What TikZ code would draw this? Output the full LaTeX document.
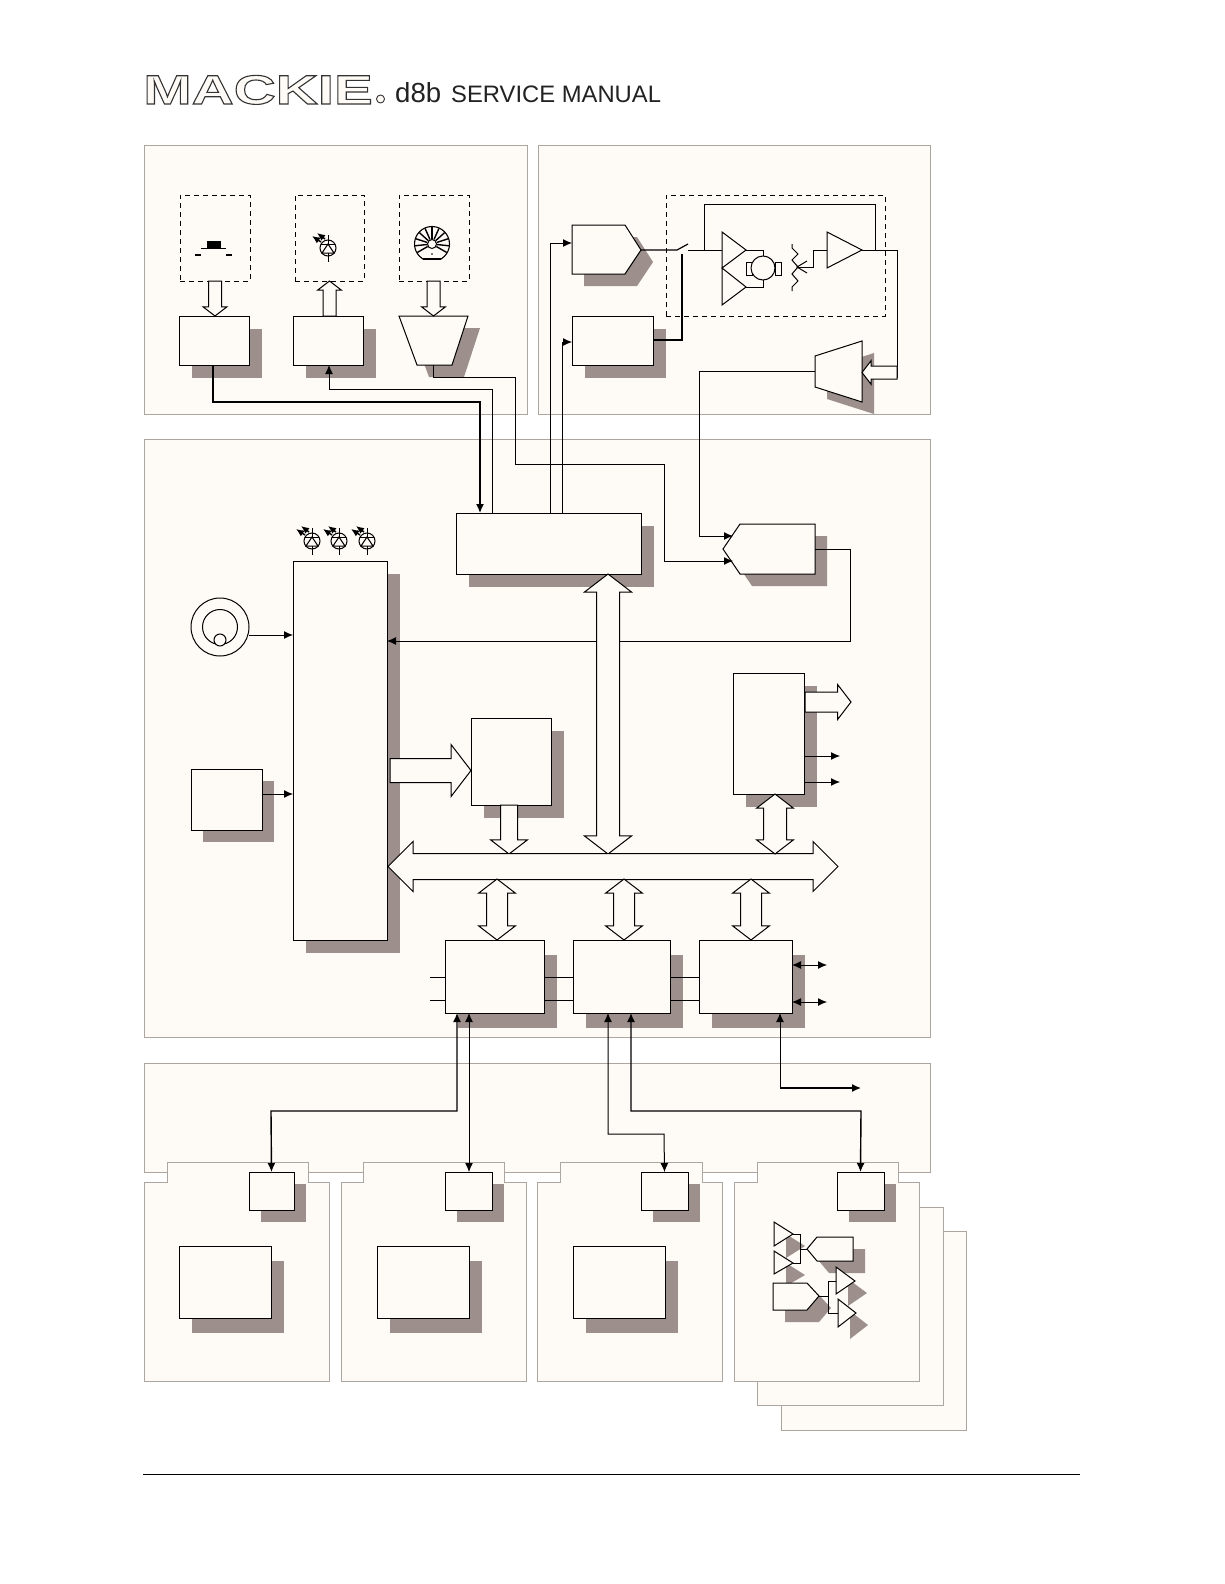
\documentclass[tikz,border=0pt]{standalone}
\usepackage{xcolor}
\usepackage{fontspec}
\usepackage{tikz}
\usetikzlibrary{arrows.meta,positioning,fit,calc,shapes.arrows,shadows}
\setmainfont{Liberation Sans}
\newfontfamily\logofont[FakeStretch=1.42]{Liberation Sans}
\definecolor{PanelFill}{HTML}{FEFAF5}
\definecolor{PanelEdge}{HTML}{ADA5A0}
\definecolor{ShadeGrey}{HTML}{9C8F8C}
\definecolor{HeadInk}{HTML}{222222}

\begin{document}
\begin{tikzpicture}[
  x=1pt, y=-1pt,
  panel/.style={draw=PanelEdge, fill=PanelFill, line width=1pt, inner sep=0pt, outer sep=0pt},
  dashbox/.style={draw=black, dash pattern=on 5pt off 4pt, line width=.9pt, inner sep=0pt, outer sep=0pt},
  casts/.style={drop shadow={shadow xshift=13pt, shadow yshift=-13pt, fill=ShadeGrey, opacity=1}},
  castsmall/.style={drop shadow={shadow xshift=12pt, shadow yshift=-12pt, fill=ShadeGrey, opacity=1}},
  castdeep/.style={drop shadow={shadow xshift=13pt, shadow yshift=-14.5pt, fill=ShadeGrey, opacity=1}},
  block/.style={draw=black, fill=PanelFill, line width=1pt, inner sep=0pt, outer sep=0pt, casts},
  blocksmall/.style={draw=black, fill=PanelFill, line width=1pt, inner sep=0pt, outer sep=0pt, castsmall},
  blockdeep/.style={draw=black, fill=PanelFill, line width=1pt, inner sep=0pt, outer sep=0pt, castdeep},
  poly/.style={draw=black, fill=PanelFill, line width=1pt, castsmall},
  plain/.style={draw=black, fill=PanelFill, line width=1pt},
  wire/.style={draw=black, line width=1pt},
  bus/.style={draw=black, line width=1.4pt},
  tipped/.style={-{Latex[length=9pt,width=8pt]}},
  bothtips/.style={{Latex[length=9pt,width=8pt]}-{Latex[length=9pt,width=8pt]}},
  fat/.style={draw=black, fill=PanelFill, line width=1pt, inner xsep=0pt, outer sep=0pt},
  fatone/.style={fat, single arrow, single arrow tip angle=105, anchor=tip},
  fattwo/.style={fat, double arrow, double arrow tip angle=105},
  panarrow/.style={fatone, minimum height=35pt, inner ysep=6pt, single arrow head extend=5.5pt},
  dsparrow/.style={fattwo, rotate=90, minimum height=61pt, inner ysep=10pt, double arrow head extend=8pt},
  led/.pic={
    \draw[line width=1pt] (0,0) circle (8);
    \draw[line width=1pt] (0,-13) -- (0,-4) (0,5) -- (0,14);
    \draw[line width=1pt] (-7,-4) -- (7,-4);
    \draw[line width=1pt] (0,-4) -- (-6,5) -- (6,5) -- cycle;
    \draw[line width=1.5pt, -{Latex[length=8pt,width=7pt]}] (-7,-6) -- (-16,-12);
    \draw[line width=1.5pt, -{Latex[length=8pt,width=7pt]}] (-3,-9) -- (-11,-15);
  },
  wheel/.pic={
    \begin{scope}
      \clip (-19,-19) rectangle (19,15);
      \draw[line width=1.1pt] (0,0) circle (17.5);
      \foreach \a in {-30,-6,...,210}
        \draw[line width=1.4pt] ({cos(\a)*5},{-sin(\a)*5}) -- ({cos(\a)*17},{-sin(\a)*17});
    \end{scope}
    \draw[plain] (0,0) circle (4.5);
    \draw[line width=1.1pt] (-9,15) -- (9,15);
    \fill (0,10) circle (.9);
  }
]
  \useasboundingbox (0,0) rectangle (1224,1584);
  \fill[white] (0,0) rectangle (1224,1584);

  % header
  \node[anchor=base west, inner sep=0pt, text=PanelFill, font=\logofont\bfseries\fontsize{41}{41}\selectfont] (logo) at (143,104) {\special{pdf:code 2 Tr 1.1 w 0.2 G 0.996 0.98 0.96 rg}MACKIE\special{pdf:code 0 Tr}};
  \draw[draw=black!80, fill=PanelFill, line width=.9pt] (380.5,99) circle (4) node (logodot) {};
  \node[anchor=base west, inner sep=0pt, text=HeadInk, font=\fontsize{27.6}{28}\selectfont] (model) at (395,103) {d8b};
  \node[anchor=base west, inner sep=0pt, text=HeadInk, font=\fontsize{23.8}{24}\selectfont] (title) at (451,103) {SERVICE MANUAL};
  \draw[line width=.9pt] (143,1474) -- (1080,1474);

  % panels
  \node[panel, fit={(144.5,145) (527,414)}] (ctrlpanel) {};
  \node[panel, fit={(538,145) (930,414)}] (faderpanel) {};
  \node[panel, fit={(144.5,439) (930,1037)}] (cpupanel) {};
  \node[panel, fit={(144.5,1063) (930,1172)}] (motherpanel) {};

  % cards
  \node[panel, fit={(781,1231) (966,1430)}] (cardback) {};
  \node[panel, fit={(757,1207) (943,1405)}] (cardmid) {};
  \draw[panel] (144.5,1182) -- (167,1182) -- (167,1162) -- (308,1162) -- (308,1182) -- (329,1182) -- (329,1381) -- (144.5,1381) -- cycle;
  \draw[panel] (341,1182) -- (363,1182) -- (363,1162) -- (504,1162) -- (504,1182) -- (526,1182) -- (526,1381) -- (341,1381) -- cycle;
  \draw[panel] (537,1182) -- (560,1182) -- (560,1162) -- (702,1162) -- (702,1182) -- (722,1182) -- (722,1381) -- (537,1381) -- cycle;
  \draw[panel] (734,1182) -- (757,1182) -- (757,1162) -- (898,1162) -- (898,1182) -- (919,1182) -- (919,1381) -- (734,1381) -- cycle;

  % control surface
  \node[dashbox, fit={(180,195) (250,281)}] (btnframe) {};
  \node[dashbox, fit={(295,195) (364,281)}] (ledframe) {};
  \node[dashbox, fit={(399,195) (469,281)}] (encframe) {};
  \fill (207,241) rectangle (221,248);
  \draw[line width=1pt] (201,248) -- (226,248);
  \draw[line width=2pt] (195,255) -- (201,255) (226,255) -- (232,255);
  \pic at (328,248) {led};
  \pic at (432,244) {wheel};
  \node[block, fit={(179,316) (249,365)}] (keyscan) {};
  \node[block, fit={(293,316) (363,365)}] (leddrv) {};
  \draw[poly] (399,316) -- (468,316) -- (452,365) -- (417,365) -- cycle;
  \coordinate (encout) at (433,365);

  % fader
  \node[dashbox, fit={(666,195) (885,316)}] (faderframe) {};
  \draw[poly] (572,225) -- (625,225) -- (641,250) -- (625,274) -- (572,274) -- cycle;
  \coordinate (dacin) at (572,243);
  \coordinate (dacout) at (641,250);
  \node[block, fit={(572,316) (653,365)}] (latch) {};
  \draw[poly] (815,356) -- (862,341) -- (862,402) -- (815,387) -- cycle;
  \coordinate (adcout) at (815,371);
  \coordinate (swin) at (677,250);
  \coordinate (swarm) at (688,244);
  \coordinate (swout) at (688,250);
  \coordinate (swctl) at (682,254);
  \draw[wire, line width=1.2pt] (dacout) -- (swin) -- (swarm);
  \draw[wire, line width=1.2pt] (swctl) |- (latch.east |- 0,340);
  \draw[plain] (722,232) -- (746,250) -- (722,268) -- cycle;
  \draw[plain] (722,268) -- (746,287) -- (722,305) -- cycle;
  \draw[wire] (swout) -- (722,250);
  \draw[wire] (704,250) -- (704,204) -- (875,204) -- (875,250);
  \draw[plain] (746,262) -- (752,262) -- (752,275) -- (746,275) -- cycle;
  \draw[plain] (775,262) -- (781,262) -- (781,275) -- (775,275) -- cycle;
  \draw[plain] (763,268) circle (12);
  \draw[wire] (746,250) -- (763,250) -- (763,256);
  \draw[wire] (746,287) -- (763,287) -- (763,280);
  \draw[wire] (792,244) -- (792,248) -- (798,254) -- (792,260) -- (798,267) -- (792,274) -- (798,281) -- (792,287) -- (792,291);
  \draw[wire] (807,261) -- (797,267) -- (807,273);
  \draw[wire] (797,267) -- (813,267) -- (813,250) -- (827,250);
  \draw[plain] (827,232) -- (862,250) -- (827,268) -- cycle;
  \draw[wire] (862,250) -- (897,250) -- (897,378);

  % cpu board
  \node[block, fit={(456,513) (641,574)}] (glue) {};
  \node[block, fit={(293,561) (387,940)}] (cpu) {};
  \draw[poly] (723,549) -- (740,524) -- (815,524) -- (815,574) -- (740,574) -- cycle;
  \coordinate (mainadca) at (733,536);
  \coordinate (mainadcb) at (733,561);
  \coordinate (mainadcout) at (815,549);
  \pic at (312,541) {led};
  \pic at (339,541) {led};
  \pic at (367,541) {led};
  \draw[plain] (220,627) circle (29);
  \draw[line width=1pt] (220,627) circle (17.5);
  \draw[plain] (220,640) circle (6);
  \coordinate (jogout) at (249,635);
  \node[blocksmall, fit={(191,769) (262,830)}] (flash) {};
  \node[block, fit={(471,718) (551,805)}] (vga) {};
  \node[block, fit={(733,673) (804,794)}] (uart) {};
  \node[blockdeep, fit={(445,940) (544,1013)}] (dspa) {};
  \node[blockdeep, fit={(573,940) (670,1013)}] (dspb) {};
  \node[blockdeep, fit={(699,940) (792,1013)}] (dspc) {};

  % cards contents
  \node[blocksmall, fit={(249,1172) (294,1210)}] (portone) {};
  \node[blocksmall, fit={(445,1172) (492,1210)}] (porttwo) {};
  \node[blocksmall, fit={(641,1172) (688,1210)}] (portthree) {};
  \node[blocksmall, fit={(837,1172) (884,1210)}] (portfour) {};
  \node[blockdeep, fit={(179,1246) (271,1318)}] (cardone) {};
  \node[blockdeep, fit={(377,1246) (469,1318)}] (cardtwo) {};
  \node[blockdeep, fit={(573,1246) (665,1318)}] (cardthree) {};
  \draw[poly] (774,1222) -- (793,1234) -- (774,1246) -- cycle;
  \draw[poly] (774,1251) -- (793,1263) -- (774,1274) -- cycle;
  \draw[poly] (807,1249) -- (817,1237) -- (853,1237) -- (853,1261) -- (817,1261) -- cycle;
  \draw[poly] (773,1283) -- (807,1283) -- (819,1296) -- (807,1310) -- (773,1310) -- cycle;
  \draw[poly] (836,1267) -- (855,1281) -- (836,1294) -- cycle;
  \draw[poly] (838,1299) -- (856,1313) -- (838,1327) -- cycle;
  \draw[wire] (793,1234) -- (800,1234) -- (800,1263) -- (793,1263);
  \draw[wire] (800,1249) -- (807,1249);
  \draw[wire] (819,1296) -- (828,1296);
  \draw[wire] (836,1281) -- (828,1281) -- (828,1313) -- (838,1313);

  % connectors
  \coordinate (gluekey) at (480,513);
  \coordinate (glueled) at (492,513);
  \coordinate (gluedac) at (550,513);
  \coordinate (gluelatch) at (562,513);
  \draw[bus, tipped] (keyscan.south -| 213,0) -- (213,402) -- (480,402) -- (gluekey);
  \draw[wire, tipped] (glueled) -- (492,389) -- (329,389) -- (leddrv.south -| 329,0);
  \draw[wire, tipped] (encout) -- (433,377) -- (515,377) -- (515,464) -- (664,464) -- (664,561) -- (mainadcb);
  \draw[wire, tipped] (adcout) -- (699,371) -- (699,536) -- (mainadca);
  \draw[wire, tipped] (gluedac) -- (550,243) -- (dacin);
  \draw[wire, tipped] (gluelatch) -- (562,342) -- (572,342);
  \draw[wire, tipped] (mainadcout) -- (850,549) -- (850,641) -- (cpu.east |- 0,641);
  \draw[wire, tipped] (jogout) -- (cpu.west |- jogout);
  \draw[wire, tipped] (flash.east |- 0,794) -- (cpu.west |- 0,794);
  \draw[wire, tipped] (uart.east |- 0,756) -- (840,756);
  \draw[wire, tipped] (uart.east |- 0,782) -- (840,782);
  \draw[wire] (430,977) -- (dspa.west |- 0,977);
  \draw[wire] (430,1000) -- (dspa.west |- 0,1000);
  \draw[wire] (dspa.east |- 0,977) -- (dspb.west |- 0,977);
  \draw[wire] (dspa.east |- 0,1000) -- (dspb.west |- 0,1000);
  \draw[wire] (dspb.east |- 0,977) -- (dspc.west |- 0,977);
  \draw[wire] (dspb.east |- 0,1000) -- (dspc.west |- 0,1000);
  \draw[wire, bothtips] (dspc.east |- 0,965) -- (827,965);
  \draw[wire, bothtips] (dspc.east |- 0,1002) -- (827,1002);
  \draw[bus, bothtips] (portone.north) -- (271,1111) -- (457,1111) -- (dspa.south -| 457,0);
  \draw[wire, bothtips] (dspa.south -| 469,0) -- (porttwo.north -| 469,0);
  \draw[wire, bothtips] (dspb.south -| 608,0) -- (608,1134) -- (664,1134) -- (portthree.north);
  \draw[bus, bothtips] (dspb.south -| 631,0) -- (631,1111) -- (861,1111) -- (portfour.north);
  \draw[wire, {Latex[length=9pt,width=8pt]}-] (dspc.south -| 780,0) -- (780,1088);
  \draw[bus, tipped] (780,1088) -- (861,1088);

  % wide arrows
  \node[panarrow, rotate=-90] (btnbus) at (215,316) {};
  \node[panarrow, rotate=90] (ledbus) at (329.5,281) {};
  \node[panarrow, rotate=-90] (encbus) at (433.5,316) {};
  \node[panarrow, rotate=180] (adcbus) at (862,372.5) {};
  \node[fatone, minimum height=81pt, inner ysep=11.5pt, single arrow head extend=14pt] (vgabus) at (471,770.5) {};
  \node[fatone, rotate=-90, minimum height=49pt, inner ysep=8pt, single arrow head extend=10pt] (vgadata) at (509,854) {};
  \node[fatone, minimum height=46pt, inner ysep=9.5pt, single arrow head extend=7.5pt] (uartout) at (851,702) {};
  \node[fattwo, rotate=90, minimum height=280pt, inner ysep=11pt, double arrow head extend=12pt] (mainbus) at (608,714) {};
  \node[fattwo, double arrow tip angle=90, minimum height=450pt, inner ysep=12.5pt, double arrow head extend=12pt] (sysbus) at (613,866.5) {};
  \node[fattwo, rotate=90, minimum height=60pt, inner ysep=11pt, double arrow head extend=7pt] (uartbus) at (775,824) {};
  \node[dsparrow] (dspabus) at (497,909.5) {};
  \node[dsparrow] (dspbbus) at (624,909.5) {};
  \node[dsparrow] (dspcbus) at (751,909.5) {};
\end{tikzpicture}
\end{document}
